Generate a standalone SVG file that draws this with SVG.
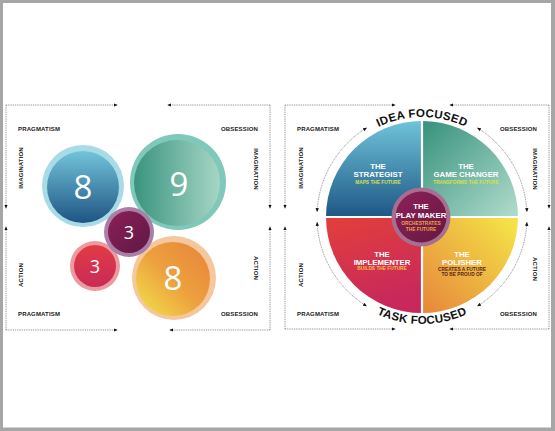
<svg xmlns="http://www.w3.org/2000/svg" width="555" height="431" viewBox="0 0 555 431">
<defs>
<style>
.dot{fill:none;stroke:#666;stroke-width:0.8;stroke-dasharray:0.9 0.9}
.lbl{font-family:"Liberation Sans",Arial,sans-serif;font-weight:bold;font-size:6px;fill:#1a1a1a;letter-spacing:0.15px}
.num{font-family:"Open Sans","Liberation Sans",sans-serif;fill:#fff;text-anchor:middle}
.ttl{font-family:"Liberation Sans",Arial,sans-serif;font-weight:bold;font-size:7.8px;fill:#fff;text-anchor:middle}
.sub{font-family:"Liberation Sans",Arial,sans-serif;font-weight:bold;font-size:4.8px;text-anchor:middle}
.arc{font-family:"Liberation Sans",Arial,sans-serif;font-weight:bold;font-size:11.5px;fill:#111;letter-spacing:0.3px}
</style>
<marker id="ah" viewBox="0 0 6 6" refX="5" refY="3" markerWidth="4" markerHeight="4" markerUnits="userSpaceOnUse" orient="auto-start-reverse"><path d="M0,0.5 L6,3 L0,5.5 z" fill="#111"/></marker>
<linearGradient id="gBlue" x1="0" y1="0" x2="0" y2="1"><stop offset="0" stop-color="#72c4da"/><stop offset="1" stop-color="#1f5483"/></linearGradient>
<linearGradient id="gGreen" x1="0" y1="0" x2="1" y2="0"><stop offset="0" stop-color="#3a947e"/><stop offset="1" stop-color="#a6d6c5"/></linearGradient>
<linearGradient id="gPurple" x1="0" y1="0" x2="1" y2="1"><stop offset="0" stop-color="#8e1f58"/><stop offset="1" stop-color="#5c1943"/></linearGradient>
<linearGradient id="gRed" x1="0" y1="0" x2="0" y2="1"><stop offset="0" stop-color="#e23b45"/><stop offset="1" stop-color="#c92a58"/></linearGradient>
<linearGradient id="gOrange" x1="1" y1="0" x2="0" y2="1"><stop offset="0" stop-color="#e7833a"/><stop offset="0.5" stop-color="#eda03e"/><stop offset="1" stop-color="#f1e44c"/></linearGradient>
<linearGradient id="qTL" x1="0" y1="0" x2="0" y2="1"><stop offset="0" stop-color="#6fc3d9"/><stop offset="1" stop-color="#1e5785"/></linearGradient>
<linearGradient id="qTR" x1="0" y1="0" x2="1" y2="1"><stop offset="0" stop-color="#35917c"/><stop offset="1" stop-color="#b2dccd"/></linearGradient>
<linearGradient id="qBL" x1="0" y1="0" x2="0.3" y2="1"><stop offset="0" stop-color="#e2403a"/><stop offset="1" stop-color="#c8285c"/></linearGradient>
<linearGradient id="qBR" x1="1" y1="0" x2="0" y2="1"><stop offset="0" stop-color="#f5e848"/><stop offset="1" stop-color="#e7853b"/></linearGradient>
<linearGradient id="qC" x1="0" y1="0" x2="1" y2="1"><stop offset="0" stop-color="#8d2058"/><stop offset="1" stop-color="#661842"/></linearGradient>
<path id="pIdea" d="M322,217 A100,100 0 0 1 522,217"/>
<path id="pTask" d="M315,217 A107,107 0 0 0 529,217"/>
</defs>

<rect x="0" y="0" width="555" height="431" fill="#a6a6a6"/>
<rect x="3" y="3" width="548" height="424.5" fill="#ffffff"/>

<g id="connectors">
<path class="dot" marker-end="url(#ah)" d="M6,105 H117"/>
<path class="dot" marker-end="url(#ah)" d="M270,105 H168"/>
<path class="dot" marker-end="url(#ah)" d="M270,105 V208"/>
<path class="dot" marker-end="url(#ah)" d="M270,330 V227"/>
<path class="dot" marker-end="url(#ah)" d="M270,330 H170"/>
<path class="dot" marker-end="url(#ah)" d="M6,330 H117"/>
<path class="dot" marker-end="url(#ah)" d="M6,330 V227"/>
<path class="dot" marker-end="url(#ah)" d="M6,105 V208"/>
<path class="dot" marker-end="url(#ah)" d="M285,105 H395"/>
<path class="dot" marker-end="url(#ah)" d="M549,105 H450"/>
<path class="dot" marker-end="url(#ah)" d="M549,105 V208"/>
<path class="dot" marker-end="url(#ah)" d="M549,329 V227"/>
<path class="dot" marker-end="url(#ah)" d="M549,329 H450"/>
<path class="dot" marker-end="url(#ah)" d="M285,329 H395"/>
<path class="dot" marker-end="url(#ah)" d="M285,329 V227"/>
<path class="dot" marker-end="url(#ah)" d="M285,105 V208"/>
<path class="dot" marker-start="url(#ah)" marker-end="url(#ah)" d="M366.4,128 A105,105 0 0 0 317.1,211.5"/>
<path class="dot" marker-start="url(#ah)" marker-end="url(#ah)" d="M477.6,128 A105,105 0 0 1 526.9,211.5"/>
<path class="dot" marker-start="url(#ah)" marker-end="url(#ah)" d="M317.1,222.5 A105,105 0 0 0 366.4,306"/>
<path class="dot" marker-start="url(#ah)" marker-end="url(#ah)" d="M526.9,222.5 A105,105 0 0 1 477.6,306"/>
</g>

<g id="left-labels">
<text class="lbl" x="18" y="130.5">PRAGMATISM</text>
<text class="lbl" x="258" y="130.5" text-anchor="end">OBSESSION</text>
<text class="lbl" x="18" y="315.5">PRAGMATISM</text>
<text class="lbl" x="258" y="315.5" text-anchor="end">OBSESSION</text>
<text class="lbl" text-anchor="middle" transform="translate(23,168) rotate(-90)">IMAGINATION</text>
<text class="lbl" text-anchor="middle" transform="translate(23,275) rotate(-90)">ACTION</text>
<text class="lbl" text-anchor="middle" transform="translate(253.5,169) rotate(90)">IMAGINATION</text>
<text class="lbl" text-anchor="middle" transform="translate(253.5,268) rotate(90)">ACTION</text>
</g>

<g id="bubble-green">
<circle cx="178" cy="182" r="48" fill="#7fc8ba"/>
<circle cx="177" cy="183" r="43" fill="url(#gGreen)"/>
<text class="num" x="179" y="196" font-size="33">9</text>
</g>
<g id="bubble-blue">
<circle cx="83" cy="186" r="41" fill="#a9dbe7"/>
<circle cx="83" cy="187" r="36" fill="url(#gBlue)"/>
<text class="num" x="83" y="199" font-size="33">8</text>
</g>
<g id="bubble-orange">
<circle cx="174" cy="278" r="42" fill="#f4c89c"/>
<circle cx="173" cy="279" r="37" fill="url(#gOrange)"/>
<text class="num" x="173" y="290" font-size="33">8</text>
</g>
<g id="bubble-red">
<circle cx="95" cy="266" r="25" fill="#ec9aa0"/>
<circle cx="95" cy="266" r="21" fill="url(#gRed)"/>
<text class="num" x="95" y="273" font-size="18">3</text>
</g>
<g id="bubble-purple">
<circle cx="129" cy="232" r="25" fill="#a97fa6"/>
<circle cx="129" cy="232" r="21" fill="url(#gPurple)"/>
<text class="num" x="129" y="239" font-size="18">3</text>
</g>

<g id="right-labels">
<text class="lbl" x="297" y="130.5">PRAGMATISM</text>
<text class="lbl" x="537" y="130.5" text-anchor="end">OBSESSION</text>
<text class="lbl" x="297" y="315.5">PRAGMATISM</text>
<text class="lbl" x="537" y="315.5" text-anchor="end">OBSESSION</text>
<text class="lbl" text-anchor="middle" transform="translate(303,168) rotate(-90)">IMAGINATION</text>
<text class="lbl" text-anchor="middle" transform="translate(303,275) rotate(-90)">ACTION</text>
<text class="lbl" text-anchor="middle" transform="translate(532.5,169) rotate(90)">IMAGINATION</text>
<text class="lbl" text-anchor="middle" transform="translate(532.5,269) rotate(90)">ACTION</text>
<text class="arc"><textPath href="#pIdea" startOffset="50%" text-anchor="middle">IDEA FOCUSED</textPath></text>
<text class="arc"><textPath href="#pTask" startOffset="50%" text-anchor="middle">TASK FOCUSED</textPath></text>
</g>

<g id="strategist">
<path d="M422,217 L326,217 A96,96 0 0 1 422,121 Z" fill="url(#qTL)"/>
<text class="ttl" x="378" y="169">THE</text>
<text class="ttl" x="378" y="177">STRATEGIST</text>
<text class="sub" x="378" y="184" fill="#d5e04a">MAPS THE FUTURE</text>
</g>
<g id="game-changer">
<path d="M422,217 L422,121 A96,96 0 0 1 518,217 Z" fill="url(#qTR)"/>
<text class="ttl" x="466" y="169">THE</text>
<text class="ttl" x="466" y="177">GAME CHANGER</text>
<text class="sub" x="466" y="184" fill="#d5e04a">TRANSFORMS THE FUTURE</text>
</g>
<g id="polisher">
<path d="M422,217 L518,217 A96,96 0 0 1 422,313 Z" fill="url(#qBR)"/>
<text class="ttl" x="462" y="257">THE</text>
<text class="ttl" x="462" y="264.5">POLISHER</text>
<text class="sub" x="462" y="270.5" fill="#5a2020">CREATES A FUTURE</text>
<text class="sub" x="462" y="276" fill="#5a2020">TO BE PROUD OF</text>
</g>
<g id="implementer">
<path d="M422,217 L422,313 A96,96 0 0 1 326,217 Z" fill="url(#qBL)"/>
<text class="ttl" x="382" y="257">THE</text>
<text class="ttl" x="382" y="264.5">IMPLEMENTER</text>
<text class="sub" x="382" y="270" fill="#f6c043">BUILDS THE FUTURE</text>
</g>
<g id="dividers">
<path d="M325,217 H519 M422,120 V314" stroke="#fff" stroke-width="2.2" fill="none"/>
</g>
<g id="play-maker">
<circle cx="421" cy="217" r="29.5" fill="#a66f8f"/>
<circle cx="421" cy="217" r="25.5" fill="url(#qC)"/>
<text class="ttl" x="421" y="209">THE</text>
<text class="ttl" x="421" y="218">PLAY MAKER</text>
<text class="sub" x="421" y="224.5" fill="#f0a23c">ORCHESTRATES</text>
<text class="sub" x="421" y="230.5" fill="#f0a23c">THE FUTURE</text>
</g>
</svg>
